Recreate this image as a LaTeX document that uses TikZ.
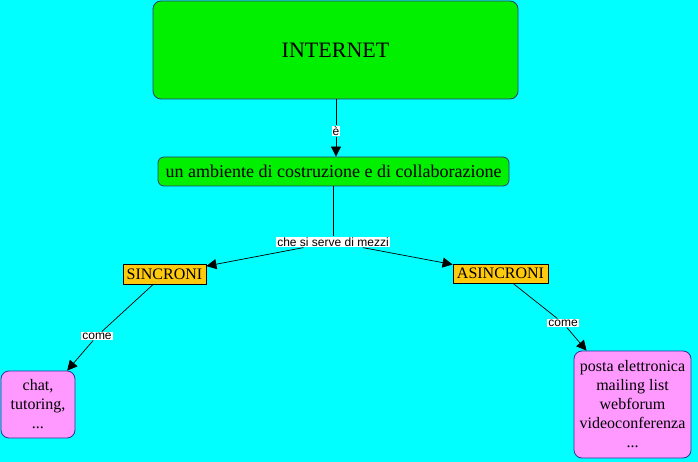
\documentclass[tikz,border=0pt]{standalone}
\usepackage{fontspec}
\setmainfont{Liberation Serif}
\newfontfamily\labelfont{Liberation Sans}
\usetikzlibrary{arrows.meta}
\definecolor{bgcyan}{HTML}{00FFFF}
\definecolor{cgreen}{HTML}{00F000}
\definecolor{cgold}{HTML}{FFC90E}
\definecolor{cpink}{HTML}{FF99FF}
\definecolor{cborder}{HTML}{2E3F6E}
\definecolor{cpborder}{HTML}{30309A}
\tikzset{
  concept/.style={draw=cborder, line width=0.8pt, rounded corners=8pt, inner sep=0pt, align=center, text=black},
  greenbox/.style={concept, fill=cgreen},
  goldbox/.style={draw=black, line width=0.8pt, fill=cgold, inner sep=0pt, font=\fontsize{16}{18}\selectfont},
  pinkbox/.style={concept, draw=cpborder, fill=cpink, font=\fontsize{16}{19}\selectfont},
  linklabel/.style={fill=white, inner sep=1pt, font=\labelfont\fontsize{12}{13}\selectfont},
  conn/.style={line width=0.7pt, draw=black},
  arr/.style={conn, -{Triangle[length=10pt,width=10pt]}}
}
\begin{document}
\begin{tikzpicture}[x=1pt,y=-1pt]
\useasboundingbox[fill=bgcyan] (0,0) rectangle (698,462);
\node[greenbox, minimum width=365pt, minimum height=98pt, font=\fontsize{22}{25}\selectfont] (internet) at (335.5,50) {INTERNET};
\node[greenbox, minimum width=351pt, minimum height=29pt, rounded corners=6pt, font=\fontsize{18}{20}\selectfont] (amb) at (333.5,171.5) {un ambiente di costruzione e di collaborazione};
\node[goldbox, minimum width=83pt, minimum height=20pt] (sinc) at (164.5,274) {SINCRONI};
\node[goldbox, minimum width=95pt, minimum height=19pt] (asinc) at (500.5,273.5) {ASINCRONI};
\node[pinkbox, minimum width=74pt, minimum height=67pt] (chat) at (38,404.5) {chat,\\tutoring,\\...};
\node[pinkbox, minimum width=117pt, minimum height=107pt] (posta) at (632.5,404.5) {posta elettronica\\mailing list\\webforum\\videoconferenza\\...};

\node[linklabel] (e) at (336,131) {è};
\node[linklabel] (che) at (333,242) {che si serve di mezzi};
\node[linklabel] (come1) at (97,336) {come};
\node[linklabel] (come2) at (563,323) {come};

\draw[conn] (internet.south -| e) -- (e);
\draw[arr] (e) -- (amb.north -| e);
\draw[conn] (amb.south -| che) -- (che);
\draw[arr] (che) -- (sinc);
\draw[arr] (che) -- (asinc);
\draw[conn] (sinc) -- (come1);
\draw[arr] (come1) -- (chat);
\draw[conn] (asinc) -- (come2);
\draw[arr] (come2) -- (posta);
\end{tikzpicture}
\end{document}
